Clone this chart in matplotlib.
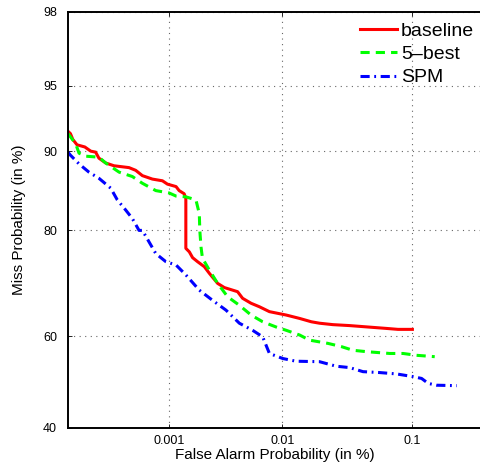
import numpy as np
import matplotlib.pyplot as plt
from statistics import NormalDist

# DET curve data (values in %)
base_far  = [0.0001, 0.000106, 0.000112, 0.000124, 0.000149, 0.000171, 0.000192, 0.000207, 0.000242, 0.000293,
             0.000412, 0.000479, 0.000556, 0.000694, 0.000864, 0.000963, 0.00116, 0.00124, 0.00138, 0.00143, 0.00143,
             0.00154, 0.00165, 0.00183, 0.00211, 0.00234, 0.00278, 0.00319, 0.00417, 0.00461, 0.00546, 0.00643, 0.00782,
             0.0108, 0.0139, 0.0173, 0.0201, 0.0256, 0.0345, 0.0651, 0.079, 0.1]
base_miss = [91.8, 91.6, 91.1, 90.6, 90.4, 90.0, 89.9, 89.3, 88.8, 88.5, 88.3, 88.0, 87.4, 87.0, 86.8, 86.4, 86.1,
             85.6, 85.2, 84.6, 77.1, 76.5, 75.5, 74.8, 73.9, 72.7, 70.8, 70.0, 69.2, 67.9, 66.9, 66.2, 65.2, 64.5, 63.8,
             63.1, 62.8, 62.5, 62.3, 61.7, 61.5, 61.5]

best5_far  = [0.0001, 0.00012, 0.00013, 0.000152, 0.000207, 0.000242, 0.000329, 0.000444, 0.000556, 0.000748, 0.001,
              0.00116, 0.00143, 0.00177, 0.0019, 0.00192, 0.00197, 0.00203, 0.00234, 0.00278, 0.00341, 0.00432, 0.00546,
              0.00686, 0.0089, 0.0108, 0.0139, 0.0167, 0.0234, 0.0298, 0.0366, 0.0462, 0.0688, 0.0859, 0.107, 0.143]
best5_miss = [91.6, 90.7, 89.8, 89.5, 89.4, 88.8, 87.8, 87.3, 86.5, 85.6, 85.3, 84.9, 84.8, 84.4, 82.5, 80.0, 77.3,
              75.4, 73.3, 70.8, 68.2, 66.5, 64.5, 63.1, 62.0, 61.3, 60.3, 59.2, 58.5, 57.8, 57.0, 56.7, 56.3, 56.3,
              55.9, 55.6]

spm_far  = [0.0001, 0.000106, 0.00013, 0.000164, 0.000207, 0.000272, 0.000316, 0.000383, 0.000444, 0.000516,
            0.000556, 0.000748, 0.00093, 0.00116, 0.00143, 0.0019, 0.0025, 0.0033, 0.00432, 0.00563, 0.00686, 0.00782,
            0.0101, 0.013, 0.0201, 0.0272, 0.0345, 0.0436, 0.0581, 0.077, 0.101, 0.116, 0.129, 0.147, 0.202]
spm_miss = [89.9, 89.6, 88.7, 87.8, 87.1, 85.9, 84.4, 83.0, 81.8, 80.0, 80.0, 76.2, 74.8, 74.2, 72.4, 69.5, 67.5,
            65.5, 62.8, 61.3, 59.9, 56.3, 55.2, 54.6, 54.5, 53.5, 53.2, 52.3, 52.1, 51.8, 51.2, 50.8, 49.7, 49.3, 49.2]

xticks = [0.001, 0.01, 0.1]
xticklabels = ['0.001', '0.01', '0.1']
yticks = [40, 60, 80, 90, 95, 98]

N = NormalDist()
_ppf = np.vectorize(N.inv_cdf, otypes=[float])
_cdf = np.vectorize(N.cdf, otypes=[float])


def probit(v):
    v = np.clip(np.asarray(v, dtype=float) / 100.0, 1e-9, 1 - 1e-9)
    return _ppf(v)


def unprobit(z):
    return _cdf(np.asarray(z, dtype=float)) * 100.0


plt.rcParams['font.family'] = ['Liberation Sans', 'DejaVu Sans']

fig = plt.figure(figsize=(4.81, 4.66), dpi=100)
ax = fig.add_axes([68 / 481, 38.3 / 466, 1 - 68 / 481, (427.7 - 12) / 466])
ax.set_xscale('function', functions=(probit, unprobit))
ax.set_yscale('function', functions=(probit, unprobit))

ax.plot(base_far, base_miss, color='#ff0000', lw=2.2, ls='-', label='baseline')
ax.plot(best5_far, best5_miss, color='#00ff00', lw=2.2, ls=(0, (3, 2)), label='5\u2013best')
ax.plot(spm_far, spm_miss, color='#0000ff', lw=2.2, ls=(0, (3, 1.5, 0.6, 1.5)), label='SPM')

ax.set_xlim(0.0001, 0.29)
ax.set_ylim(40, 98)
ax.set_xticks(xticks)
ax.set_xticklabels(xticklabels)
ax.set_yticks(yticks)
ax.set_yticklabels([str(t) for t in yticks])
ax.minorticks_off()
ax.tick_params(direction='in', top=True, right=False, labelsize=9, length=3, width=0.6)
ax.tick_params(axis='y', pad=8)
ax.tick_params(axis='x', pad=5)
ax.spines['right'].set_visible(False)
for s in ['left', 'bottom', 'top']:
    ax.spines[s].set_linewidth(1.4)
ax.grid(True, ls=(0, (1, 4)), color='#666666', lw=0.8)

ax.set_xlabel('False Alarm Probability (in %)', fontsize=11, labelpad=1)
ax.set_ylabel('Miss Probability (in %)', fontsize=11, labelpad=12)

ax.legend(loc='upper left', bbox_to_anchor=(360 / 481, 1 - 22 / 466), bbox_transform=fig.transFigure,
          frameon=False, fontsize=14, handlelength=1.9, handletextpad=0.2, labelspacing=0.3,
          borderpad=0, borderaxespad=0)

fig.savefig('out.png')
